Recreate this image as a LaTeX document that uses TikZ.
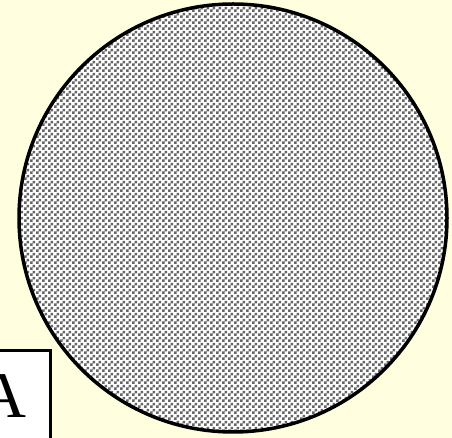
\documentclass[tikz,border=0pt]{standalone}
\usepackage{fontspec}
\setmainfont{Liberation Serif}
\usetikzlibrary{patterns.meta}
\definecolor{paper}{HTML}{FFFFE0}
\tikzdeclarepattern{name=checks,type=uncolored,
  bottom left={(0pt,0pt)},top right={(6pt,6pt)},tile size={(6pt,6pt)},
  code={\fill (0pt,0pt) rectangle (3pt,3pt) (3pt,3pt) rectangle (6pt,6pt);}}
\begin{document}
\begin{tikzpicture}[x=1pt,y=1pt]
\useasboundingbox[fill=paper] (0,0) rectangle (452,438);
\clip (0,0) rectangle (452,438);
\node (ball) at (233,220) [circle,draw,line width=3.5pt,minimum size=428pt,inner sep=0pt,
  preaction={fill=white},pattern=checks,pattern color=black!60] {};
\node (lbl) at (3,42) [draw,fill=white,line width=3pt,minimum width=94pt,minimum height=90pt,
  font=\fontsize{65}{65}\selectfont] {A};
\end{tikzpicture}
\end{document}
